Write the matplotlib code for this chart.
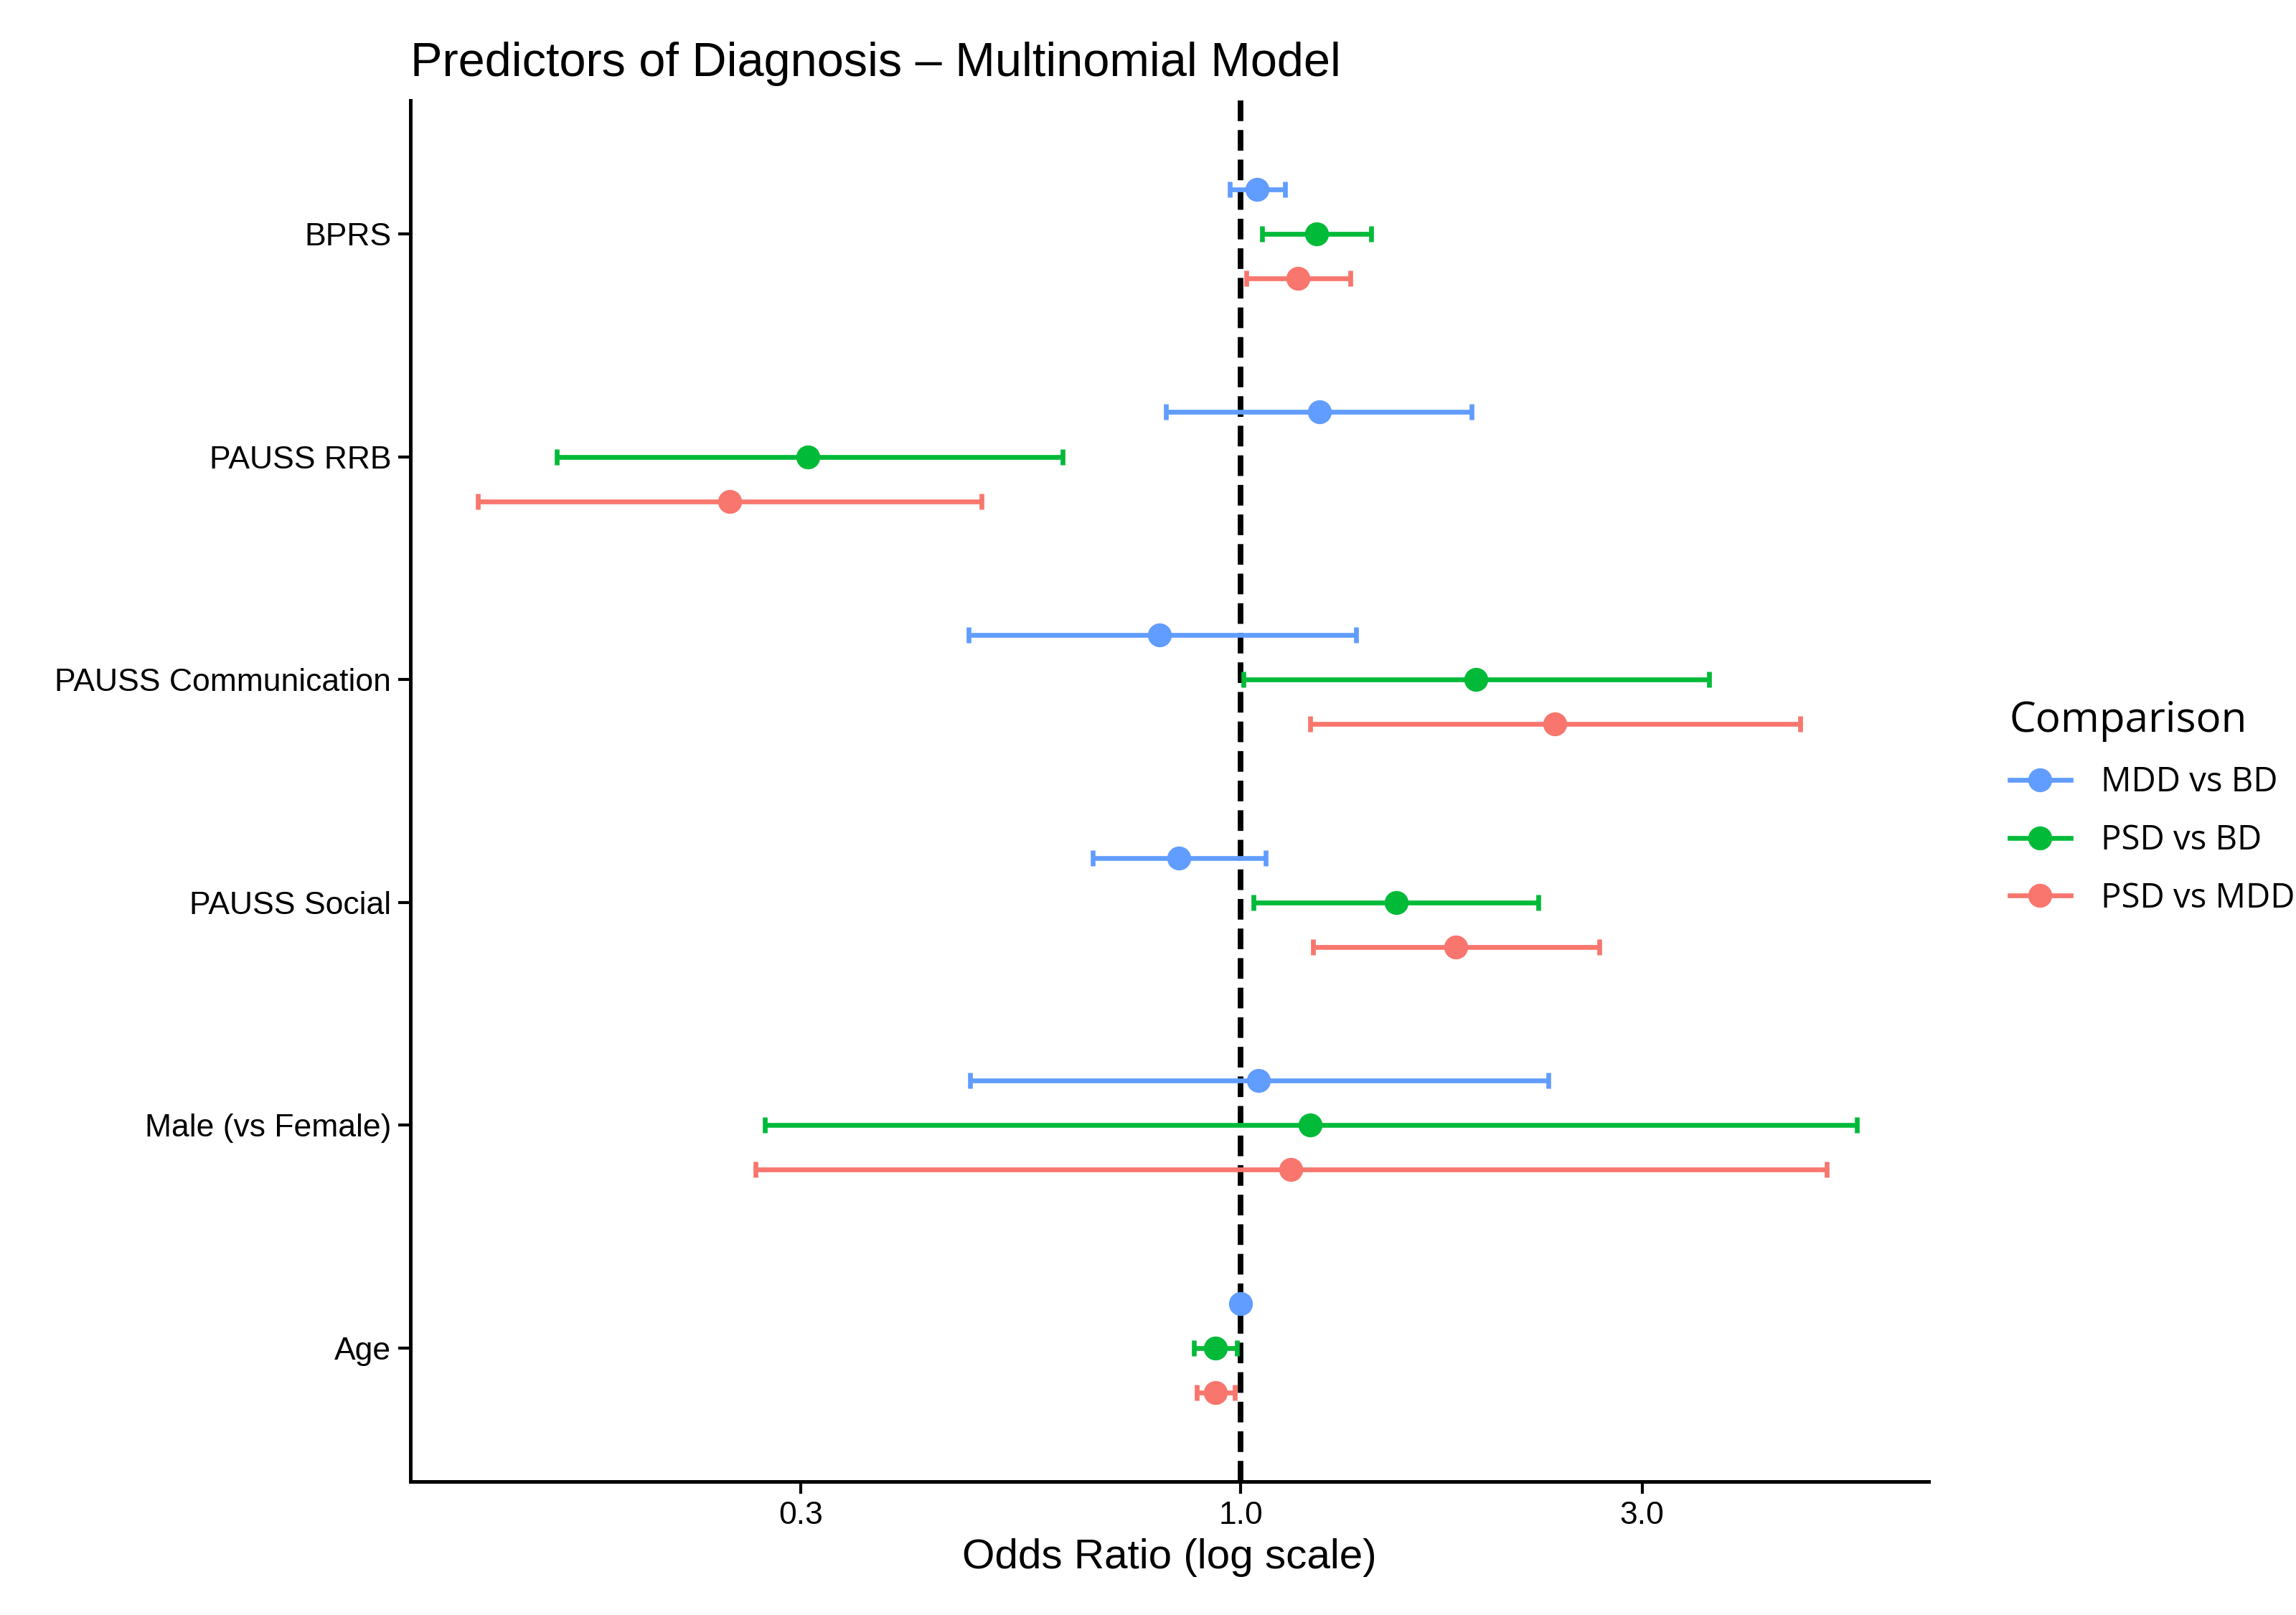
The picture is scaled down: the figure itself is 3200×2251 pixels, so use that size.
import matplotlib.pyplot as plt
from matplotlib.lines import Line2D
import numpy as np

plt.rcParams['font.family'] = ['Liberation Sans', 'DejaVu Sans']

# predictors, bottom to top (ggplot order)
predictors = ['Age', 'Male (vs Female)', 'PAUSS Social', 'PAUSS Communication', 'PAUSS RRB', 'BPRS']
comparisons = ['MDD vs BD', 'PSD vs BD', 'PSD vs MDD']
colors = ['#619CFF', '#00BA38', '#F8766D']

# odds ratios and 95% CI per comparison, in predictor order above
or_mdd_bd = [1.00, 1.05, 0.845, 0.80, 1.24, 1.045]
lo_mdd_bd = [0.995, 0.477, 0.667, 0.475, 0.815, 0.97]
hi_mdd_bd = [1.005, 2.32, 1.07, 1.37, 1.88, 1.13]

or_psd_bd = [0.934, 1.21, 1.53, 1.905, 0.306, 1.23]
lo_psd_bd = [0.88, 0.272, 1.036, 1.008, 0.154, 1.06]
hi_psd_bd = [0.99, 5.4, 2.26, 3.6, 0.614, 1.43]

or_psd_mdd = [0.934, 1.146, 1.80, 2.36, 0.247, 1.17]
lo_psd_mdd = [0.887, 0.265, 1.22, 1.21, 0.124, 1.016]
hi_psd_mdd = [0.984, 4.97, 2.67, 4.62, 0.492, 1.35]

series = [(or_mdd_bd, lo_mdd_bd, hi_mdd_bd),
          (or_psd_bd, lo_psd_bd, hi_psd_bd),
          (or_psd_mdd, lo_psd_mdd, hi_psd_mdd)]
offsets = [0.2, 0.0, -0.2]

fig = plt.figure(figsize=(16, 11.255), dpi=200)
ax = fig.add_axes([0.1786, 0.0825, 0.6614, 0.8555])

ypos = np.arange(1, len(predictors) + 1)
for (est, lo, hi), off, col in zip(series, offsets, colors):
    est = np.array(est); lo = np.array(lo); hi = np.array(hi)
    ax.errorbar(est, ypos + off, xerr=[est - lo, hi - est], fmt='o', color=col,
                ms=11, elinewidth=2.4, capsize=4, capthick=2.4)

ax.axvline(1.0, color='black', ls='--', lw=2.8, zorder=0)
ax.set_xscale('log')
ax.set_xlim(0.103, 6.57)
ax.set_ylim(0.40, 6.60)
ax.set_xticks([0.3, 1.0, 3.0])
ax.set_xticklabels(['0.3', '1.0', '3.0'])
ax.minorticks_off()
ax.set_yticks(ypos)
ax.set_yticklabels(predictors)
ax.tick_params(labelsize=16, length=6, width=1.5, colors='black')
for s in ['top', 'right']:
    ax.spines[s].set_visible(False)
for s in ['left', 'bottom']:
    ax.spines[s].set_linewidth(1.8)
ax.set_xlabel('Odds Ratio (log scale)', fontsize=21)
ax.set_title('Predictors of Diagnosis \u2013 Multinomial Model', fontsize=24, loc='left', x=0.0, pad=12)

handles = [Line2D([], [], color=c, marker='o', ms=11, lw=2.4) for c in colors]
leg = fig.legend(handles, comparisons, loc='center left', bbox_to_anchor=(0.862, 0.5),
                 frameon=False, title='Comparison',
                 handletextpad=0.9, labelspacing=0.7, handlelength=1.8,
                 prop={'family': 'Open Sans', 'size': 17})
leg._legend_box.align = 'left'
leg.get_title().set_family('Open Sans')
leg.get_title().set_fontsize(21)

fig.savefig('out.png', dpi=200)
